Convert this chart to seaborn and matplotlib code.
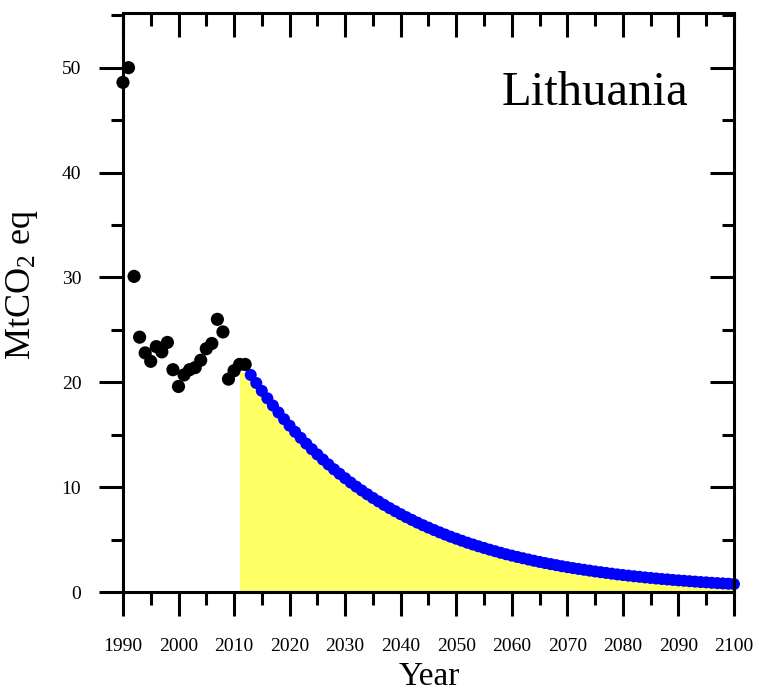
import matplotlib
matplotlib.use("Agg")
import matplotlib.pyplot as plt
from matplotlib.ticker import MultipleLocator
import pandas as pd
import seaborn as sns

# observed emissions, 1990-2012
obs_years = list(range(1990, 2013))
obs_values = [48.6, 50.0, 30.1, 24.3, 22.8, 22.0, 23.4, 22.9, 23.8, 21.2,
              19.6, 20.7, 21.2, 21.4, 22.1, 23.2, 23.7, 26.0, 24.8, 20.3,
              21.1, 21.7, 21.7]

# projected pathway, 2013-2100
proj_years = list(range(2013, 2101))
proj_values = [20.70, 19.93, 19.18, 18.47, 17.78, 17.12, 16.48, 15.86, 15.27, 14.70,
               14.15, 13.62, 13.12, 12.63, 12.16, 11.70, 11.27, 10.85, 10.44, 10.05,
               9.68, 9.32, 8.97, 8.64, 8.31, 8.00, 7.71, 7.42, 7.14, 6.88,
               6.62, 6.37, 6.14, 5.91, 5.69, 5.48, 5.27, 5.08, 4.89, 4.70,
               4.53, 4.36, 4.20, 4.04, 3.89, 3.74, 3.60, 3.47, 3.34, 3.22,
               3.10, 2.98, 2.87, 2.76, 2.66, 2.56, 2.46, 2.37, 2.28, 2.20,
               2.12, 2.04, 1.96, 1.89, 1.82, 1.75, 1.68, 1.62, 1.56, 1.50,
               1.45, 1.39, 1.34, 1.29, 1.24, 1.20, 1.15, 1.11, 1.07, 1.03,
               0.99, 0.95, 0.92, 0.88, 0.85, 0.82, 0.79, 0.76]

# shaded budget area starts in 2011
fill_years = [2011, 2012] + proj_years
fill_values = [21.0, 20.9] + proj_values

sns.set_style("ticks")
plt.rcParams['font.family'] = ['Liberation Serif', 'DejaVu Serif']
plt.rcParams['mathtext.fontset'] = 'custom'
plt.rcParams['mathtext.rm'] = 'Liberation Serif'
plt.rcParams['mathtext.default'] = 'regular'
for key in ['text.color', 'axes.labelcolor', 'xtick.color', 'ytick.color', 'axes.edgecolor']:
    plt.rcParams[key] = 'black'

obs = pd.DataFrame({'year': obs_years, 'value': obs_values})
proj = pd.DataFrame({'year': proj_years, 'value': proj_values})

fig = plt.figure(figsize=(7.59, 6.92), dpi=100)
ax = fig.add_axes([0.162, 0.1445, 0.805, 0.8365])

ax.fill_between(fill_years, fill_values, 0, color='#ffff66', linewidth=0, zorder=1)
sns.scatterplot(data=obs, x='year', y='value', color='black', s=90,
                edgecolor='none', ax=ax, zorder=3, clip_on=False)
sns.scatterplot(data=proj, x='year', y='value', color='#0000ff', s=75,
                edgecolor='none', ax=ax, zorder=2, clip_on=False)

ax.set_xlim(1990, 2100)
ax.set_ylim(0, 55.2)

ax.xaxis.set_major_locator(MultipleLocator(10))
ax.xaxis.set_minor_locator(MultipleLocator(5))
ax.yaxis.set_major_locator(MultipleLocator(10))
ax.yaxis.set_minor_locator(MultipleLocator(5))

for side in ['left', 'right', 'top', 'bottom']:
    ax.spines[side].set_linewidth(2.2)
    ax.spines[side].set_visible(True)

ax.tick_params(axis='both', which='both', width=2.2, color='black',
               top=True, right=True)
ax.tick_params(axis='x', which='major', direction='out', length=17, pad=16, labelsize=14)
ax.tick_params(axis='x', which='minor', direction='out', length=9)
ax.tick_params(axis='y', which='major', direction='out', length=17, pad=13, labelsize=14)
ax.tick_params(axis='y', which='minor', direction='out', length=9)
ax.tick_params(which='both', top=True, right=True, labeltop=False, labelright=False)
# top and right ticks point inward
for tk in ax.xaxis.get_major_ticks() + ax.xaxis.get_minor_ticks():
    tk.tick2line.set_marker(matplotlib.lines.TICKDOWN)
for tk in ax.yaxis.get_major_ticks() + ax.yaxis.get_minor_ticks():
    tk.tick2line.set_marker(matplotlib.lines.TICKLEFT)

ax.set_xlabel('Year', fontsize=24)
ax.set_ylabel(r'MtCO$_2$ eq', fontsize=26)
ax.xaxis.set_label_coords(0.502, -0.12)
ax.yaxis.set_label_coords(-0.135, 0.53)

ax.text(0.926, 0.862, 'Lithuania', transform=ax.transAxes, fontsize=35,
        ha='right', va='center')

fig.savefig('out.png', dpi=100)
